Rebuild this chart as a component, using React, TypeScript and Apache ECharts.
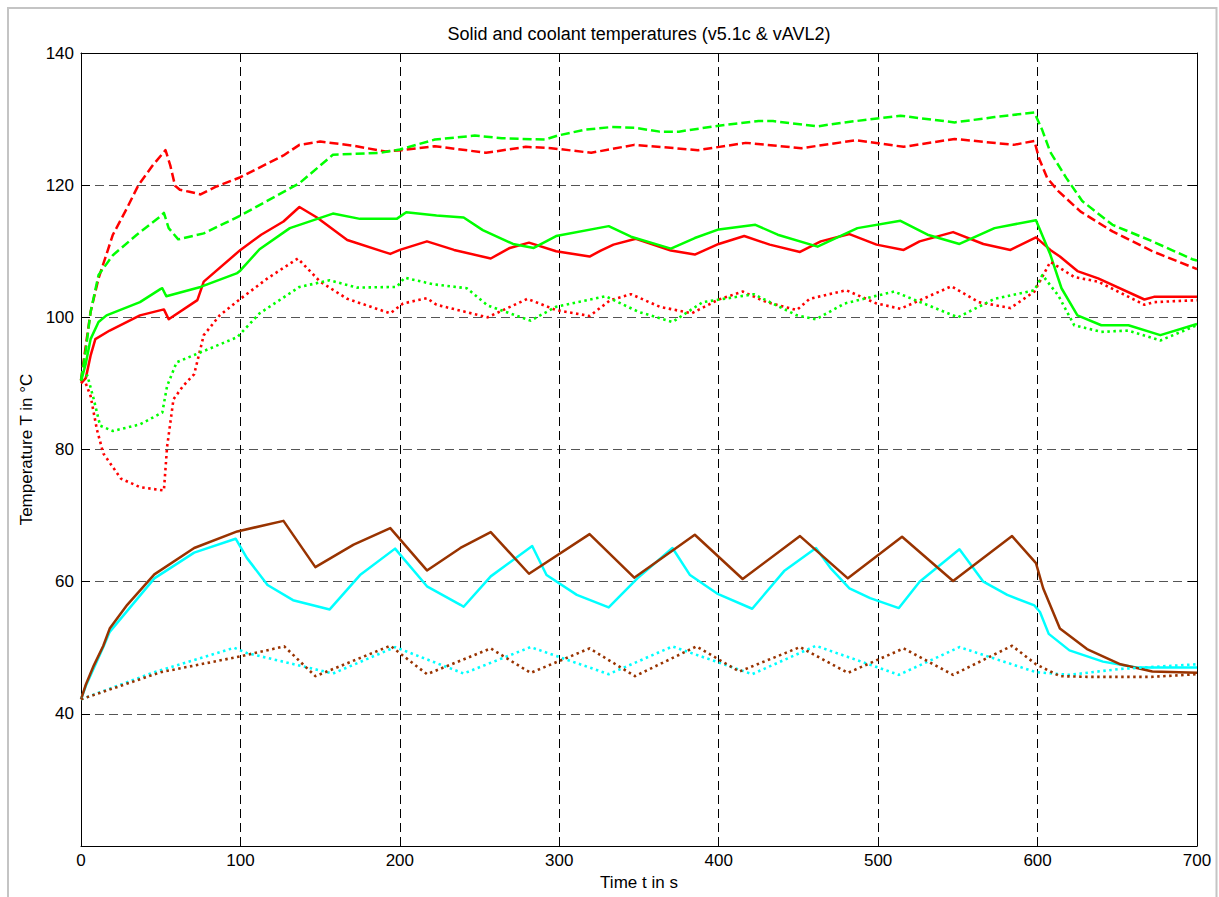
import React, { useEffect, useRef } from "react";
import * as echarts from "echarts";

type Pt = [number, number];

const titleText = "Solid and coolant temperatures (v5.1c & vAVL2)";
const xName = "Time t in s";
const yName = "Temperature T in °C";

const xTicks = [0, 100, 200, 300, 400, 500, 600, 700];
const yTicks = [20, 40, 60, 80, 100, 120, 140];

const redDashed: Pt[] = [
  [0, 90.5], [2, 94], [6, 100.8], [11, 105.9], [20, 112.5], [29, 116.6], [36, 120], [45, 123],
  [53, 125.3], [56, 123], [59, 119.9], [62, 119.3], [68, 119], [75, 118.6], [85, 119.8],
  [100, 121.2], [127, 124.5], [137, 126.1], [150, 126.6], [170, 126], [191, 125.1], [201, 125.3],
  [222, 125.9], [254, 124.9], [279, 125.8], [295, 125.6], [320, 124.9], [347, 126.1],
  [387, 125.3], [417, 126.4], [452, 125.6], [486, 126.8], [516, 125.8], [548, 127],
  [585, 126.1], [598, 126.7], [601, 124], [606, 121.1], [613, 119.1], [627, 116],
  [647, 113], [672, 110], [700, 107.3],
];

const greenDashed: Pt[] = [
  [0, 90.5], [3, 95], [6, 100.8], [11, 106.4], [20, 109.4], [35, 112.5], [50, 115.3], [52, 115.8],
  [55, 113.5], [61, 111.8], [77, 112.7], [100, 115.4], [137, 120.3], [158, 124.6], [188, 124.9],
  [200, 125.4], [222, 126.9], [247, 127.5], [264, 127.1], [291, 126.9], [299, 127.5],
  [316, 128.4], [333, 128.8], [347, 128.7], [363, 128.1], [375, 128.1], [400, 129],
  [425, 129.7], [434, 129.7], [462, 128.9], [479, 129.5], [514, 130.5], [548, 129.5],
  [573, 130.3], [598, 131], [603, 128.3], [608, 125], [618, 121.1], [628, 117.6],
  [647, 114], [672, 111.5], [697, 108.8], [700, 108.6],
];

const redSolid: Pt[] = [
  [0, 90], [3, 90.8], [6, 94.2], [9, 96.7], [18, 98], [37, 100.3], [52, 101.2], [55, 99.7],
  [73, 102.6], [77, 105.4], [100, 110.2], [113, 112.5], [127, 114.5], [137, 116.7], [148, 115.1],
  [167, 111.7], [190, 109.9], [194, 109.6], [200, 110.2], [217, 111.5], [234, 110.2],
  [257, 108.9], [269, 110.5], [281, 111.3], [298, 110], [319, 109.2], [326, 110.1],
  [334, 111], [348, 111.9], [370, 110.1], [385, 109.5], [400, 111.1], [416, 112.3],
  [432, 111], [451, 109.9], [464, 111.5], [482, 112.6], [499, 111], [516, 110.2],
  [526, 111.5], [547, 112.9], [566, 111.1], [583, 110.2], [599, 112.1], [608, 110.2],
  [614, 109.2], [625, 107], [638, 105.9], [667, 102.7], [673, 103.1], [700, 103.1],
];

const greenSolid: Pt[] = [
  [0, 90.3], [3, 93], [6, 96.7], [11, 99.3], [16, 100.3], [37, 102.3], [50, 104.3], [51, 104.4],
  [53.5, 103.2], [75, 104.6], [98, 106.7], [100, 107.1], [112, 110.3], [131, 113.5],
  [158, 115.7], [175, 114.9], [198, 114.9], [204, 115.9], [223, 115.4], [240, 115.1],
  [252, 113.2], [271, 111.1], [284, 110.5], [298, 112.3], [331, 113.8], [345, 112.2],
  [370, 110.4], [385, 112], [400, 113.3], [423, 114], [437, 112.5], [462, 110.7],
  [487, 113.5], [514, 114.6], [531, 112.5], [551, 111.1], [573, 113.5], [599, 114.7],
  [608, 109.5], [615, 104.4], [625, 100.3], [640, 98.8], [657, 98.8], [677, 97.3], [700, 99],
];

const redDotted: Pt[] = [
  [0, 90.5], [3, 90], [6, 88.1], [10, 83], [14, 79.4], [25, 75.6], [37, 74.3], [52, 73.8],
  [54, 80.4], [58, 87.6], [64, 89.6], [71, 91.4], [77, 97.3], [87, 100.3], [100, 102.8],
  [117, 105.9], [136, 108.9], [150, 105.4], [167, 102.8], [194, 100.6], [202, 102.1],
  [217, 102.9], [223, 101.9], [255, 100], [280, 102.8], [298, 101.1], [319, 100.2],
  [332, 102.6], [345, 103.5], [363, 101.6], [383, 100.6], [400, 102.7], [415, 103.9],
  [430, 102.3], [449, 101.1], [457, 102.8], [480, 104.1], [499, 102.1], [514, 101.3],
  [546, 104.7], [563, 102.3], [583, 101.4], [598, 103.9], [608, 108.4], [623, 106.1],
  [638, 105.4], [667, 101.9], [673, 102.3], [700, 102.6],
];

const greenDotted: Pt[] = [
  [0, 90.5], [4, 91.2], [8, 87.6], [12, 83.6], [20, 82.8], [37, 83.8], [51, 85.6], [54, 89.6],
  [60, 93.2], [73, 94.5], [98, 97], [112, 100.6], [137, 104.6], [156, 105.6], [173, 104.5],
  [198, 104.6], [203, 106], [221, 105], [242, 104.4], [255, 101.8], [282, 99.5],
  [298, 101.6], [329, 103.2], [350, 100.8], [371, 99.3], [390, 102.3], [422, 103.5],
  [449, 100.3], [461, 99.7], [479, 102.1], [510, 103.9], [550, 100], [573, 102.8],
  [598, 104.1], [603, 106.4], [613, 103.3], [623, 98.8], [640, 97.8], [657, 98],
  [677, 96.5], [700, 98.8],
];

const brownSolid: Pt[] = [
  [0, 42.2], [3, 44.4], [8, 47.3], [14, 50.3], [18, 52.9], [29, 56.5], [46, 61.1], [71, 65.1],
  [98, 67.6], [127, 69.2], [147, 62.2], [171, 65.6], [194, 68.1], [217, 61.7], [238, 65.1],
  [257, 67.5], [281, 61.2], [319, 67.2], [347, 60.6], [385, 67.1], [415, 60.4], [451, 66.9],
  [481, 60.5], [515, 66.8], [547, 60.1], [584, 66.9], [599, 62.8], [603.5, 59], [614, 52.9],
  [631, 49.8], [652, 47.5], [672, 46.4], [700, 46.2],
];

const cyanSolid: Pt[] = [
  [0, 42.2], [3, 44.2], [14, 50.1], [18, 52.4], [46, 60.5], [71, 64.4], [97, 66.5], [104, 63.6],
  [117, 59.5], [133, 57.2], [156, 55.8], [175, 61], [197, 65], [217, 59.3], [238, 56.5],
  [240, 56.2], [257, 60.8], [283, 65.4], [292, 61], [311, 58], [331, 56.1], [349, 60.5],
  [371, 65.1], [382, 61], [399, 58.2], [421, 55.9], [441, 61.6], [461, 65.1], [470, 62.1],
  [482, 59], [495, 57.5], [513, 56], [526, 60], [551, 64.9], [566, 60], [581, 58],
  [598, 56.4], [601.5, 55.4], [607, 52.1], [620, 49.6], [641, 47.9], [662, 47], [700, 47],
];

const brownDotted: Pt[] = [
  [0, 42.2], [50, 46.3], [98, 48.6], [127.5, 50.2], [147, 45.7], [194, 50.3], [217, 46],
  [257, 49.9], [282, 46.2], [319, 49.9], [347.5, 45.7], [386, 50.2], [413, 46.4],
  [451, 50.1], [481, 46.2], [516, 49.9], [547, 45.9], [584, 50.3], [599, 47.5],
  [614, 45.7], [631, 45.6], [672, 45.6], [700, 46],
];

const cyanDotted: Pt[] = [
  [0, 42.2], [46, 46.3], [96, 50], [104, 49.2], [158, 46.1], [197, 50.1], [240, 46.1],
  [282, 50.1], [331, 46], [371, 50.2], [421, 46], [461, 50.3], [513, 45.9], [551, 50.1],
  [599, 46.3], [620, 45.9], [652, 46.8], [700, 47.5],
];

const RED = "#ff0000";
const GREEN = "#00ff00";
const CYAN = "#00ffff";
const BROWN = "#993300";
const FONT = "'Liberation Sans', Arial, sans-serif";

const DASH = [9, 4];
const DOT = [2.5, 3.5];

function line(name: string, data: Pt[], color: string, type: any, width: number) {
  return {
    name,
    type: "line",
    data,
    showSymbol: false,
    symbol: "none",
    silent: true,
    lineStyle: { color, width, type, cap: "butt", join: "round" },
    itemStyle: { color },
  };
}

export default function App() {
  const ref = useRef<HTMLDivElement>(null);
  useEffect(() => {
    if (!ref.current) return;
    const chart = echarts.init(ref.current, undefined, { renderer: "svg" });
    const commonX = {
      type: "value",
      min: xTicks[0],
      max: xTicks[xTicks.length - 1],
      interval: 100,
      axisLine: { show: true, onZero: false, lineStyle: { color: "#000", width: 1 } },
      axisTick: { show: true, inside: true, length: 9, lineStyle: { color: "#000" } },
    };
    const commonY = {
      type: "value",
      min: yTicks[0],
      max: yTicks[yTicks.length - 1],
      interval: 20,
      axisLine: { show: true, onZero: false, lineStyle: { color: "#000", width: 1 } },
      axisTick: { show: true, inside: true, length: 9, lineStyle: { color: "#000" } },
    };
    chart.setOption({
      animation: false,
      backgroundColor: "#ffffff",
      title: {
        text: titleText,
        left: 639,
        top: 25,
        padding: 0,
        textAlign: "center",
        textStyle: { fontSize: 18, fontWeight: "normal", color: "#000", fontFamily: FONT },
      },
      graphic: [
        {
          type: "rect",
          silent: true,
          shape: { x: 8, y: 8, width: 1208.5, height: 900 },
          style: { fill: "none", stroke: "#c4c4c4", lineWidth: 2 },
        },
      ],
      grid: { left: 81, right: 22, top: 53, bottom: 51 },
      xAxis: [
        {
          ...commonX,
          position: "bottom",
          name: xName,
          nameLocation: "middle",
          nameGap: 28,
          nameTextStyle: { fontSize: 17, color: "#000", fontFamily: FONT },
          axisLabel: { fontSize: 17, color: "#000", margin: 6, fontFamily: FONT },
          splitLine: { show: true, lineStyle: { color: "#000", width: 1, type: [9, 5] } },
        },
        {
          ...commonX,
          position: "top",
          axisLabel: { show: false },
          splitLine: { show: false },
        },
      ],
      yAxis: [
        {
          ...commonY,
          position: "left",
          name: yName,
          nameLocation: "middle",
          nameGap: 45,
          nameTextStyle: { fontSize: 17, color: "#000", fontFamily: FONT },
          axisLabel: {
            fontSize: 17,
            color: "#000",
            margin: 7,
            fontFamily: FONT,
            formatter: (v: number) => (v === yTicks[0] ? "" : String(v)),
          },
          splitLine: { show: true, lineStyle: { color: "#555", width: 1, type: [9, 5] } },
        },
        {
          ...commonY,
          position: "right",
          axisLabel: { show: false },
          splitLine: { show: false },
        },
      ],
      series: [
        line("Red dashed", redDashed, RED, DASH, 2.5),
        line("Green dashed", greenDashed, GREEN, DASH, 2.5),
        line("Red solid", redSolid, RED, "solid", 2.5),
        line("Green solid", greenSolid, GREEN, "solid", 2.5),
        line("Red dotted", redDotted, RED, DOT, 2.6),
        line("Green dotted", greenDotted, GREEN, DOT, 2.6),
        line("Cyan solid", cyanSolid, CYAN, "solid", 2.5),
        line("Brown solid", brownSolid, BROWN, "solid", 2.5),
        line("Cyan dotted", cyanDotted, CYAN, DOT, 2.6),
        line("Brown dotted", brownDotted, BROWN, DOT, 2.6),
      ],
    });
    return () => chart.dispose();
  }, []);
  return (
    <div
      ref={ref}
      style={{ position: "fixed", left: 0, top: 0, width: 1219, height: 897, background: "#fff" }}
    />
  );
}
